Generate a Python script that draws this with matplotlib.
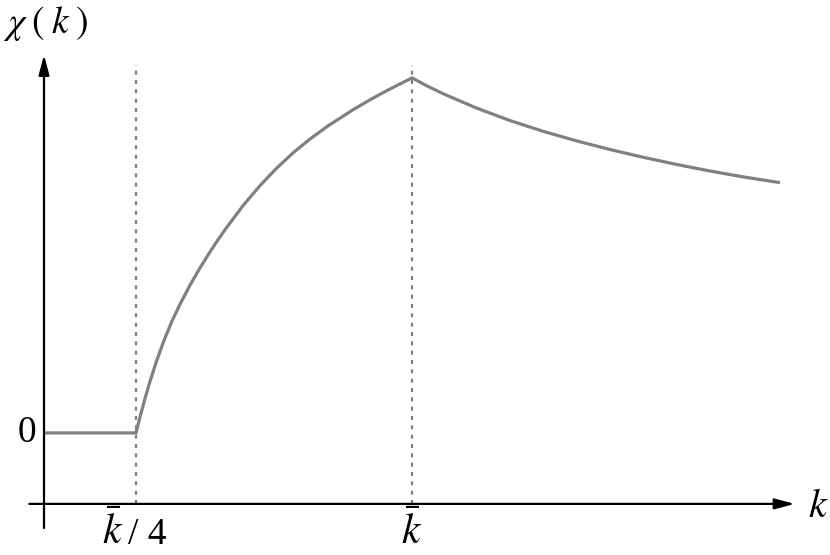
import matplotlib
matplotlib.use("Agg")
import matplotlib.pyplot as plt

plt.rcParams["mathtext.fontset"] = "stix"
plt.rcParams["font.family"] = ["Liberation Serif", "DejaVu Serif"]

# ── Données (k en unités de k̄, chi normalisé au pic) ─────────
k_flat   = [0.0, 0.25]
chi_flat = [0.0, 0.0]

k_rise   = [0.2500, 0.2609, 0.2745, 0.2880, 0.3063, 0.3242, 0.3470,
            0.3696, 0.3967, 0.4239, 0.4511, 0.4736, 0.4965, 0.5416,
            0.5870, 0.6323, 0.6774, 0.7228, 0.7726, 0.8405, 0.8859,
            0.9313, 0.9764, 1.0]
chi_rise = [0.0000, 0.0448, 0.0971, 0.1452, 0.2038, 0.2555, 0.3135,
            0.3625, 0.4161, 0.4650, 0.5101, 0.5453, 0.5791, 0.6413,
            0.6968, 0.7460, 0.7895, 0.8280, 0.8656, 0.9110, 0.9385,
            0.9642, 0.9879, 1.0]

k_fall   = [1.0, 1.0399, 1.0851, 1.1758, 1.2663, 1.3568, 1.4476,
            1.5380, 1.6285, 1.7193, 1.8098, 1.9003, 2.0]
chi_fall = [1.0, 0.9782, 0.9555, 0.9150, 0.8801, 0.8496, 0.8227,
            0.7985, 0.7765, 0.7563, 0.7379, 0.7213, 0.7051]

k_marks = [0.25, 1.0]

GRAY = "#808080"
X_AXIS_Y = -0.20

fig = plt.figure(figsize=(8.3, 5.55), dpi=100)
ax = fig.add_axes([0, 0, 1, 1])
ax.set_xlim(-0.1196, 2.1359)
ax.set_ylim(-0.344, 1.2197)
ax.axis("off")

# axes fléchés
arrow = dict(arrowstyle="-|>,head_length=0.6,head_width=0.16", color="black",
             lw=1.6, mutation_scale=20, shrinkA=0, shrinkB=0)
ax.annotate("", xy=(2.04, X_AXIS_Y), xytext=(-0.04, X_AXIS_Y), arrowprops=arrow)
ax.annotate("", xy=(0.0, 1.065), xytext=(0.0, -0.268), arrowprops=arrow)

# pointillés verticaux
for km in k_marks:
    ax.plot([km, km], [X_AXIS_Y, 1.037], color=GRAY, lw=1.6,
            linestyle=(0, (1.8, 2.4)), zorder=1)

# courbe
k_all = k_flat + k_rise[1:] + k_fall[1:]
chi_all = chi_flat + chi_rise[1:] + chi_fall[1:]
ax.plot(k_all, chi_all, color=GRAY, lw=2.3, solid_joinstyle="miter",
        solid_capstyle="butt", zorder=2)

# textes
ax.text(-0.0462, 0.0, "0", fontsize=27, ha="center", va="center")
ax.text(0.2147, -0.3127, r"$\bar{k}$", fontsize=30, ha="right", va="baseline")
ax.text(0.2280, -0.3127, "/ 4", fontsize=27, ha="left", va="baseline")
ax.text(1.0, -0.3127, r"$\bar{k}$", fontsize=30, ha="center", va="baseline")
ax.text(2.0760, -0.2366, r"$k$", fontsize=29, ha="left", va="baseline")
ax.text(-0.1114, 1.1268, r"$\chi\;(\;k\;)$", fontsize=27, ha="left", va="baseline")

fig.savefig("out.png", dpi=100)
